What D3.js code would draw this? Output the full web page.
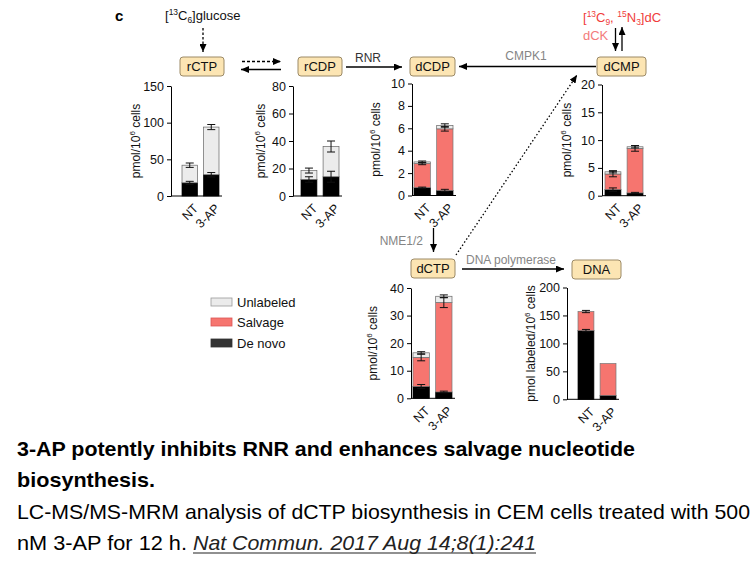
<!DOCTYPE html>
<html><head><meta charset="utf-8">
<script src="https://cdn.jsdelivr.net/npm/d3@7"></script>
<style>
body{margin:0;background:#fff}
svg{display:block}
text{font-family:"Liberation Sans",Arial,Helvetica,sans-serif}
</style></head>
<body><svg id="chart" width="756" height="567"></svg>
<script>
// ---------------- data ----------------
const categories = ["NT", "3-AP"];
const panelNames = ["rCTP", "rCDP", "dCDP", "dCMP", "dCTP", "DNA"];
const yMax = [150, 80, 10, 20, 40, 200];
const yTickStep = [50, 20, 2, 5, 10, 50];
const yLabels = ["pmol/10", "pmol/10", "pmol/10", "pmol/10", "pmol/10", "pmol labeled/10"];
// segment amounts (stacked bottom→top): de novo, salvage, unlabeled
const deNovo    = [[18, 29], [12, 14], [0.7, 0.45], [1.1, 0.5], [4.3, 2.3], [123, 7]];
const salvage   = [[0, 0],   [0, 0],   [2.15, 5.5], [2.8, 8.0], [10.5, 32.4], [34, 57]];
const unlabeled = [[24, 65], [6.5, 22], [0.15, 0.3], [0.4, 0.3], [1.7, 2.3], [0, 0]];
// error bars (± at top of each segment), null = none
const deNovoErr    = [[2, 3], [2, 4], [0.05, 0.1], [0.3, 0.1], [0.7, 0.3], [2, null]];
const salvageErr   = [[null, null], [null, null], [0.1, 0.2], [0.5, 0.5], [1.2, 1.8], [2, null]];
const unlabeledErr = [[3, 3.5], [1.8, 4], [0.08, 0.15], [0.2, 0.2], [0.4, 0.5], [null, null]];
const legendItems = ["Unlabeled", "Salvage", "De novo"];

// ---------------- layout / styles ----------------
const layout = [
  {ax: 171, top: 86,   bottom: 196,   b0: 182, b1: 219, lab: 136, box: [180, 57, 44, 19]},
  {ax: 293, top: 86,   bottom: 196,   b0: 301, b1: 339, lab: 261, box: [298, 57, 44, 19]},
  {ax: 412, top: 83.5, bottom: 195.5, b0: 414, b1: 453, lab: 376, box: [410, 57, 45, 19]},
  {ax: 602, top: 84.5, bottom: 195.7, b0: 605, b1: 643, lab: 567, box: [597, 57, 49, 19]},
  {ax: 411, top: 288,  bottom: 398.3, b0: 413, b1: 452, lab: 373, box: [411, 259, 44, 19]},
  {ax: 567, top: 287.5,bottom: 399.3, b0: 578, b1: 616, lab: 531, box: [572, 260, 49, 19]}
];
const colDeNovo = "#000000", colSalvage = "#f6756f", colUnl = "#ececec";
const boxFill = "#fce5b3", boxStroke = "#9c8a67";
const grayTxt = "#858585";

const svg = d3.select("#chart");
const defs = svg.append("defs");
defs.append("marker").attr("id", "ah").attr("viewBox", "0 0 8 7")
  .attr("refX", 8).attr("refY", 3.5).attr("markerWidth", 8).attr("markerHeight", 7)
  .attr("markerUnits", "userSpaceOnUse").attr("orient", "auto")
  .append("path").attr("d", "M0,0 L8,3.5 L0,7 z").attr("fill", "#000");

function arrow(x1, y1, x2, y2, dash, w) {
  svg.append("line").attr("x1", x1).attr("y1", y1).attr("x2", x2).attr("y2", y2)
    .attr("stroke", "#000").attr("stroke-width", w || 1.3)
    .attr("stroke-dasharray", dash || null).attr("marker-end", "url(#ah)");
}
function rich(x, y, parts, opts) {
  const t = svg.append("text").attr("x", x).attr("y", y)
    .attr("font-size", opts.size).attr("fill", opts.fill || "#000")
    .attr("text-anchor", opts.anchor || "start");
  let cur = 0;
  parts.forEach(p => {
    let target = 0, fs = opts.size;
    if (p.s === "sup") { target = -opts.size * 0.4; fs = opts.size * 0.65; }
    if (p.s === "sub") { target = opts.size * 0.25; fs = opts.size * 0.65; }
    t.append("tspan").attr("dy", target - cur).attr("font-size", fs).text(p.t);
    cur = target;
  });
  return t;
}

// ---------------- panels ----------------
panelNames.forEach((name, i) => {
  const L = layout[i];
  const y = d3.scaleLinear().domain([0, yMax[i]]).range([L.bottom, L.top]);
  const x = d3.scaleBand().domain(categories).range([L.b0, L.b1]).paddingInner(0.28);
  const g = svg.append("g");

  // y axis
  const ticks = d3.range(0, yMax[i] + 1e-9, yTickStep[i]);
  const axis = d3.axisLeft(y).tickValues(ticks).tickSize(4).tickPadding(3).tickSizeOuter(0);
  const ag = g.append("g").attr("transform", `translate(${L.ax},0)`).call(axis);
  ag.select(".domain").attr("stroke", "#000").attr("stroke-width", 1);
  ag.selectAll(".tick line").attr("stroke", "#000");
  ag.selectAll(".tick text").attr("font-size", 12.5).attr("fill", "#111")
    .attr("font-family", "'Liberation Sans',Arial,sans-serif");

  // baseline
  g.append("line").attr("x1", L.ax).attr("x2", L.b1 + 3)
    .attr("y1", L.bottom).attr("y2", L.bottom).attr("stroke", "#000").attr("stroke-width", 1);

  // stacked bars
  categories.forEach((c, j) => {
    const segs = [
      {v: deNovo[i][j], col: colDeNovo, err: deNovoErr[i][j], stroke: "#000"},
      {v: salvage[i][j], col: colSalvage, err: salvageErr[i][j], stroke: "#777"},
      {v: unlabeled[i][j], col: colUnl, err: unlabeledErr[i][j], stroke: "#666"}
    ];
    let base = 0;
    const bx = x(c), bw = x.bandwidth();
    segs.forEach(s => {
      if (s.v > 0) {
        g.append("rect").attr("x", bx).attr("width", bw)
          .attr("y", y(base + s.v)).attr("height", y(base) - y(base + s.v))
          .attr("fill", s.col).attr("stroke", s.stroke).attr("stroke-width", 0.7);
      }
      base += s.v;
      s.top = base;
    });
    segs.forEach(s => {
      if (s.err != null && s.v > 0) {
        const cx = bx + bw / 2, hi = y(s.top + s.err), lo = y(s.top - s.err);
        const col = "#111";
        g.append("line").attr("x1", cx).attr("x2", cx).attr("y1", hi).attr("y2", lo).attr("stroke", col).attr("stroke-width", 1);
        [hi, lo].forEach(yy => g.append("line").attr("x1", cx - 4).attr("x2", cx + 4)
          .attr("y1", yy).attr("y2", yy).attr("stroke", col).attr("stroke-width", 1));
      }
    });
    // x tick label
    g.append("text").attr("transform", `translate(${bx + bw / 2 + 3},${L.bottom + 7}) rotate(-45)`)
      .attr("text-anchor", "end").attr("dy", "0.7em").attr("font-size", 12.5).attr("fill", "#111").text(c);
  });

  // y label
  const cy = (L.top + L.bottom) / 2;
  const yl = g.append("text").attr("transform", `translate(${L.lab},${cy}) rotate(-90)`)
    .attr("text-anchor", "middle").attr("dy", "0.35em").attr("font-size", 12).attr("fill", "#111");
  yl.append("tspan").text(yLabels[i]);
  yl.append("tspan").attr("font-size", 8).attr("dy", -5).text("6");
  yl.append("tspan").attr("dy", 5).text(" cells");

  // metabolite box
  const [bx0, by0, bw0, bh0] = L.box;
  svg.append("rect").attr("x", bx0).attr("y", by0).attr("width", bw0).attr("height", bh0)
    .attr("rx", 3).attr("fill", boxFill).attr("stroke", boxStroke).attr("stroke-width", 1);
  svg.append("text").attr("x", bx0 + bw0 / 2).attr("y", by0 + bh0 / 2).attr("dy", "0.36em")
    .attr("text-anchor", "middle").attr("font-size", 13).attr("fill", "#111").text(name);
});

// ---------------- pathway annotations ----------------
svg.append("text").attr("x", 115).attr("y", 21).attr("font-weight", "bold").attr("font-size", 15).text("c");
rich(165, 20, [{t: "["}, {t: "13", s: "sup"}, {t: "C"}, {t: "6", s: "sub"}, {t: "]glucose"}], {size: 13, fill: "#111"});
arrow(203, 28, 203, 52, "2.5,2");
arrow(242, 61.5, 281, 61.5, "3,2");
arrow(281, 69.5, 241, 69.5);
arrow(346, 67, 402, 67);
svg.append("text").attr("x", 368).attr("y", 62).attr("text-anchor", "middle").attr("font-size", 12).attr("fill", "#333").text("RNR");
arrow(596, 66.5, 459, 66.5);
svg.append("text").attr("x", 526).attr("y", 60).attr("text-anchor", "middle").attr("font-size", 12).attr("fill", grayTxt).text("CMPK1");
rich(583, 22, [{t: "["}, {t: "13", s: "sup"}, {t: "C"}, {t: "9", s: "sub"}, {t: ", "}, {t: "15", s: "sup"}, {t: "N"}, {t: "3", s: "sub"}, {t: "]dC"}], {size: 13, fill: "#f03c3c"});
svg.append("text").attr("x", 583).attr("y", 40).attr("font-size", 13).attr("fill", "#f37b7b").text("dCK");
arrow(615.5, 28, 615.5, 51);
arrow(622, 51, 622, 27);
arrow(433.5, 228, 433.5, 252);
svg.append("text").attr("x", 423).attr("y", 245).attr("text-anchor", "end").attr("font-size", 12).attr("fill", grayTxt).text("NME1/2");
arrow(456, 255, 577, 75, "1.5,2.2");
arrow(462, 269, 564, 269);
svg.append("text").attr("x", 511).attr("y", 264).attr("text-anchor", "middle").attr("font-size", 12).attr("fill", grayTxt).text("DNA polymerase");

// ---------------- legend ----------------
const legCols = [{f: "#ebebeb", s: "#999"}, {f: colSalvage, s: "#d55"}, {f: "#333", s: "#333"}];
const legY = [298, 318, 339];
legendItems.forEach((t, k) => {
  svg.append("rect").attr("x", 211).attr("y", legY[k]).attr("width", 21).attr("height", 8)
    .attr("fill", legCols[k].f).attr("stroke", legCols[k].s).attr("stroke-width", 0.8);
  svg.append("text").attr("x", 237).attr("y", legY[k] + 4).attr("dy", "0.36em")
    .attr("font-size", 13).attr("fill", "#111").text(t);
});

// ---------------- caption ----------------
const cap = svg.append("g").attr("fill", "#000");
cap.append("text").attr("x", 17).attr("y", 456).attr("font-size", 21).attr("font-weight", "bold")
  .attr("textLength", 618).attr("lengthAdjust", "spacingAndGlyphs")
  .text("3-AP potently inhibits RNR and enhances salvage nucleotide");
cap.append("text").attr("x", 17).attr("y", 487).attr("font-size", 21).attr("font-weight", "bold")
  .attr("textLength", 138).attr("lengthAdjust", "spacingAndGlyphs").text("biosynthesis.");
cap.append("text").attr("x", 17).attr("y", 519).attr("font-size", 21)
  .attr("textLength", 733).attr("lengthAdjust", "spacingAndGlyphs")
  .text("LC-MS/MS-MRM analysis of dCTP biosynthesis in CEM cells treated with 500");
cap.append("text").attr("x", 17).attr("y", 550).attr("font-size", 21)
  .attr("textLength", 170).attr("lengthAdjust", "spacingAndGlyphs").text("nM 3-AP for 12 h.");
cap.append("text").attr("x", 193).attr("y", 550).attr("font-size", 21).attr("font-style", "italic")
  .attr("fill", "#222")
  .attr("textLength", 343).attr("lengthAdjust", "spacingAndGlyphs").text("Nat Commun. 2017 Aug 14;8(1):241");
cap.append("line").attr("x1", 193).attr("x2", 536).attr("y1", 553).attr("y2", 553).attr("stroke", "#222").attr("stroke-width", 1.2);
</script></body></html>
